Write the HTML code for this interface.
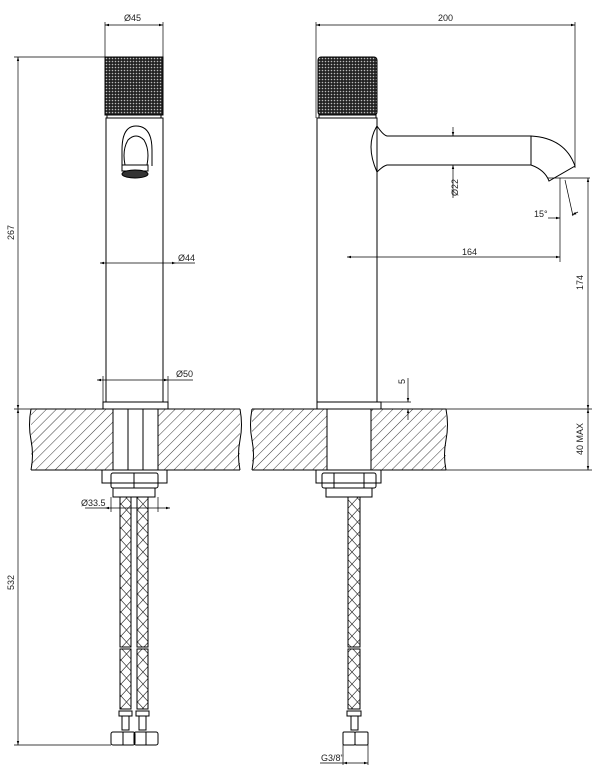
<!DOCTYPE html><html><head><style>body{margin:0;background:#fff}svg{display:block}text{font-family:"Liberation Sans",sans-serif;font-size:9px;fill:#222}</style></head><body>
<svg width="600" height="772" viewBox="0 0 600 772" xmlns="http://www.w3.org/2000/svg">
<defs>
<pattern id="h" width="7" height="7" patternUnits="userSpaceOnUse" patternTransform="rotate(45)"><line x1="0" y1="0" x2="0" y2="7" stroke="#222" stroke-width="0.9"/></pattern>
<pattern id="k" width="3" height="3" patternUnits="userSpaceOnUse"><rect width="3" height="3" fill="#222"/><circle cx="1.5" cy="1.5" r="0.8" fill="#bbb"/></pattern>
<pattern id="br" width="11" height="12" patternUnits="userSpaceOnUse"><path d="M0 0L11 12M11 0L0 12" stroke="#333" stroke-width="0.7" fill="none"/></pattern>
<marker id="a" viewBox="0 0 10 10" refX="10" refY="5" markerWidth="6" markerHeight="6" orient="auto-start-reverse"><path d="M0 2L10 5L0 8z" fill="#000"/></marker>
</defs>
<g stroke="#000" stroke-width="1" fill="none">
<path d="M31 409H113V470H31Z M158 409H240V470H158Z M252 409H327V470H252Z M371 409H446V470H371Z" fill="url(#h)" stroke="none"/>
<path d="M31 409H240 M31 470H240 M252 409H446 M252 470H446 M31 409Q28 425 31 440Q34 455 31 470 M240 409Q243 425 240 440Q237 455 240 470 M252 409Q249 425 252 440Q255 455 252 470 M446 409Q449 425 446 440Q443 455 446 470"/>
<path d="M113 409V470M158 409V470M128 409V470M143 409V470M327 409V470M371 409V470"/>
<rect x="105" y="57" width="58" height="58" fill="url(#k)"/>
<rect x="107" y="115" width="54" height="3"/>
<rect x="106" y="118" width="57" height="284"/>
<rect x="103" y="402" width="65" height="7"/>
<path d="M122 166V150Q122 126 136 126Q152 126 152 150V166 M125 165Q122 150 128 140Q136 132 144 140Q150 150 147 165"/>
<rect x="122" y="165" width="26" height="6"/>
<ellipse cx="135" cy="174" rx="13" ry="4" fill="#333"/>
<rect x="102" y="470" width="65" height="13"/><rect x="111" y="473" width="47" height="15" rx="2"/><path d="M134 473V488"/>
<rect x="113" y="488" width="42" height="9"/>
<rect x="120" y="497" width="11" height="150" fill="url(#br)"/><rect x="137" y="497" width="11" height="150" fill="url(#br)"/>
<rect x="120" y="649" width="11" height="60" fill="url(#br)"/><rect x="137" y="649" width="11" height="60" fill="url(#br)"/>
<path d="M119 711H132V716H119ZM136 711H149V716H136Z M122 716V730H129V716M139 716V730H146V716"/>
<rect x="111" y="732" width="24" height="13" rx="2"/><rect x="134" y="732" width="24" height="13" rx="2"/><path d="M123 732V745M146 732V745"/>
<rect x="318" y="57" width="59" height="58" rx="3" fill="url(#k)"/>
<rect x="319" y="115" width="57" height="3"/>
<rect x="317" y="118" width="60" height="284"/>
<rect x="317" y="402" width="64" height="7"/>
<path d="M377 126Q365 145 377 172 M377 126Q383 135 387 136H531Q565 138 575 166L549 181Q545 170 531 165H387Q383 166 377 172 M531 136V165 M549 181L575 166"/>
<rect x="316" y="470" width="65" height="13"/><rect x="322" y="473" width="54" height="15" rx="2"/><path d="M334 473V488M364 473V488"/>
<rect x="326" y="488" width="46" height="9"/>
<rect x="348" y="497" width="12" height="150" fill="url(#br)"/><rect x="348" y="649" width="12" height="60" fill="url(#br)"/>
<path d="M347 711H361V716H347Z M351 716V730H358V716"/>
<rect x="343" y="732" width="12" height="13" rx="1"/><rect x="355" y="732" width="13" height="13" rx="1"/>
</g>
<g stroke="#000" stroke-width="0.7" fill="none">
<path d="M105 22V57M163 22V57"/><path d="M105 25H163" marker-start="url(#a)" marker-end="url(#a)"/>
<path d="M14 57H105M14 409H100M14 745H111"/>
<path d="M18 57V409" marker-start="url(#a)" marker-end="url(#a)"/><path d="M18 409V745" marker-start="url(#a)" marker-end="url(#a)"/>
<path d="M100 263H176" marker-start="url(#a)" marker-end="url(#a)"/><path d="M176 263H195"/>
<path d="M97 380H168" marker-start="url(#a)" marker-end="url(#a)"/><path d="M168 380H193"/><path d="M103 376V402M168 376V402"/>
<path d="M85 508H105" /><path d="M105 508H170" marker-start="url(#a)" marker-end="url(#a)"/><path d="M111 497V512M158 497V512"/>
<path d="M316 22V118M575 22V168"/><path d="M316 25H575" marker-start="url(#a)" marker-end="url(#a)"/>
<path d="M453 127V136" marker-end="url(#a)"/><path d="M453 198V165" marker-end="url(#a)"/>
<path d="M560 178V262M548 178H590M565 180L573 216"/>
<path d="M347 257H560" marker-start="url(#a)" marker-end="url(#a)"/>
<path d="M548 218H560" marker-end="url(#a)"/><path d="M578 212L572 215" marker-end="url(#a)"/>
<path d="M588 178V409" marker-start="url(#a)" marker-end="url(#a)"/><path d="M588 409V470" marker-start="url(#a)" marker-end="url(#a)"/>
<path d="M446 470H592M446 409H592"/>
<path d="M381 402H411"/><path d="M408 378V402" marker-end="url(#a)"/><path d="M408 420V409" marker-end="url(#a)"/>
<path d="M343 745V765M368 745V765M320 763H343" /><path d="M343 763H368" marker-start="url(#a)" marker-end="url(#a)"/>
</g>
<text x="124" y="21">Ø45</text>
<text x="438" y="21">200</text>
<text x="178" y="261">Ø44</text>
<text x="176" y="377">Ø50</text>
<text x="81" y="506">Ø33.5</text>
<text x="462" y="255">164</text>
<text x="534" y="217">15°</text>
<text x="321" y="761">G3/8"</text>
<text transform="translate(14 240) rotate(-90)">267</text>
<text transform="translate(14 590) rotate(-90)">532</text>
<text transform="translate(583 290) rotate(-90)">174</text>
<text transform="translate(583 455) rotate(-90)">40 MAX</text>
<text transform="translate(405 384) rotate(-90)">5</text>
<text transform="translate(458 196) rotate(-90)">Ø22</text>
</svg>
</body></html>
